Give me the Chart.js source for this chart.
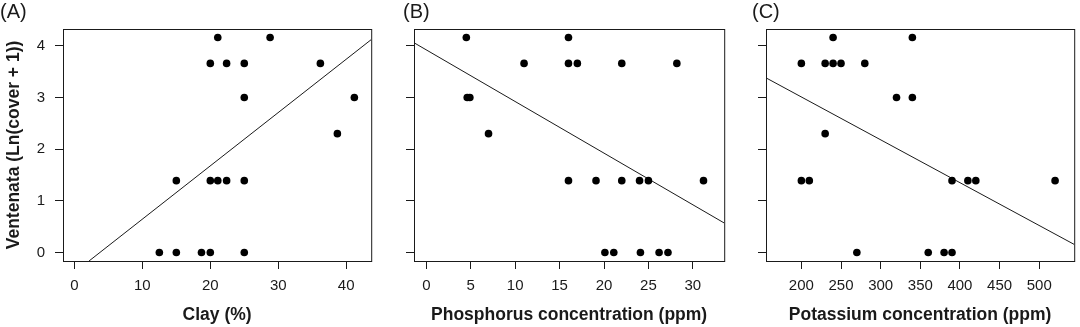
<!DOCTYPE html>
<html><head><meta charset="utf-8">
<script src="https://cdn.jsdelivr.net/npm/chart.js@4/dist/chart.umd.min.js"></script>
<style>
html,body{margin:0;padding:0;background:#fff;overflow:hidden;}
#wrap{position:relative;width:1080px;height:327px;}
canvas{position:absolute;top:0;}
</style></head><body>
<div id="wrap">
<canvas id="cA" width="375" height="327" style="left:0px"></canvas>
<canvas id="cB" width="325" height="327" style="left:403px"></canvas>
<canvas id="cC" width="326" height="327" style="left:752px"></canvas>
</div>
<script>
// ---- data ----
const yTicks = [0, 1, 2, 3, 4];
const yTitle = 'Ventenata (Ln(cover + 1))';

const panelLabels = ['(A)', '(B)', '(C)'];
const xTitles = ['Clay (%)', 'Phosphorus concentration (ppm)', 'Potassium concentration (ppm)'];

const clayTicks = [0, 10, 20, 30, 40];
const clayX = [21.1, 28.8, 20, 22.4, 25, 36.2, 25, 41.2, 38.7, 15, 20, 21.1, 22.4, 25, 12.5, 15, 18.7, 20, 25];
const clayY = [4.16, 4.16, 3.66, 3.66, 3.66, 3.66, 3.0, 3.0, 2.3, 1.39, 1.39, 1.39, 1.39, 1.39, 0, 0, 0, 0, 0];
const clayFitX = [2.15, 43.68];
const clayFitY = [-0.166, 4.12];

const phosTicks = [0, 5, 10, 15, 20, 25, 30];
const phosX = [4.5, 16, 11, 16, 17, 22, 28.2, 4.6, 4.9, 7, 16, 19.1, 22, 24, 25, 31.2, 20.1, 21.1, 24.1, 26.2, 27.2];
const phosY = [4.16, 4.16, 3.66, 3.66, 3.66, 3.66, 3.66, 3.0, 3.0, 2.3, 1.39, 1.39, 1.39, 1.39, 1.39, 1.39, 0, 0, 0, 0, 0];
const phosFitX = [-1.39, 33.53];
const phosFitY = [4.06, 0.57];

const potTicks = [200, 250, 300, 350, 400, 450, 500];
const potX = [240, 340, 200, 230, 240, 250, 280, 320, 340, 230, 200, 210, 390, 410, 420, 520, 270, 360, 380, 390];
const potY = [4.16, 4.16, 3.66, 3.66, 3.66, 3.66, 3.66, 3.0, 3.0, 2.3, 1.39, 1.39, 1.39, 1.39, 1.39, 1.39, 0, 0, 0, 0];
const potFitX = [155.4, 544.1];
const potFitY = [3.38, 0.155];

// ---- rendering ----
const FONT = "'Liberation Sans', Arial, sans-serif";
const INK = '#1a1a1a';

const boxPlugin = {
  id: 'box',
  afterDatasetsDraw(chart) {
    const { ctx, chartArea: a } = chart;
    ctx.save();
    ctx.strokeStyle = INK;
    ctx.lineWidth = 1;
    ctx.strokeRect(a.left + 0.5, a.top + 0.5, a.right - a.left, a.bottom - a.top);
    ctx.restore();
  }
};

function pts(xs, ys) { return xs.map((x, i) => ({ x: x, y: ys[i] })); }

function makePanel(id, label, xs, ys, fx, fy, xTicks, xMin, xMax, xTitle, yAxisWidth, showY) {
  new Chart(document.getElementById(id), {
    type: 'scatter',
    data: {
      datasets: [
        { data: pts(xs, ys), pointRadius: 3.8, pointBackgroundColor: '#000', pointBorderWidth: 0, pointHoverRadius: 3.8 },
        { data: pts(fx, fy), showLine: true, borderColor: INK, borderWidth: 1, pointRadius: 0, pointHoverRadius: 0, fill: false }
      ]
    },
    options: {
      responsive: false,
      devicePixelRatio: 1,
      animation: false,
      events: [],
      layout: { padding: { left: 0, right: 1, top: 0, bottom: 0 } },
      plugins: {
        legend: { display: false },
        tooltip: { enabled: false },
        title: {
          display: true, text: label, align: 'start', color: INK,
          font: { family: FONT, size: 20, weight: 'normal', lineHeight: 1.2 },
          padding: { top: 0.5, bottom: 4.5 }
        }
      },
      scales: {
        x: {
          type: 'linear', min: xMin, max: xMax,
          afterBuildTicks: s => { s.ticks = xTicks.map(v => ({ value: v })); },
          afterFit: s => { s.height = 66; },
          grid: { drawOnChartArea: false, drawTicks: true, tickLength: 8, color: INK, lineWidth: 1 },
          border: { display: false },
          ticks: { color: INK, font: { family: FONT, size: 15 }, padding: 8, maxRotation: 0, autoSkip: false },
          title: { display: true, text: xTitle, color: INK, font: { family: FONT, size: 17.5, weight: 'bold', lineHeight: 1.2 }, padding: { top: 0, bottom: 1 } }
        },
        y: {
          type: 'linear', min: -0.166, max: 4.326,
          afterBuildTicks: s => { s.ticks = yTicks.map(v => ({ value: v })); },
          afterFit: s => { s.width = yAxisWidth; },
          grid: { drawOnChartArea: false, drawTicks: true, tickLength: 8, color: INK, lineWidth: 1 },
          border: { display: false },
          ticks: { display: showY, color: INK, font: { family: FONT, size: 15 }, padding: 10 },
          title: { display: showY, text: yTitle, color: INK, font: { family: FONT, size: 17.5, weight: 'bold', lineHeight: 1.2 }, padding: { top: 3.5, bottom: 0 } }
        }
      }
    },
    plugins: [boxPlugin]
  });
}

makePanel('cA', panelLabels[0], clayX, clayY, clayFitX, clayFitY, clayTicks, -1.68, 43.68, xTitles[0], 63, true);
makePanel('cB', panelLabels[1], phosX, phosY, phosFitX, phosFitY, phosTicks, -1.39, 33.53, xTitles[1], 11, false);
makePanel('cC', panelLabels[2], potX, potY, potFitX, potFitY, potTicks, 155.4, 544.1, xTitles[2], 14, false);
</script>
</body></html>
